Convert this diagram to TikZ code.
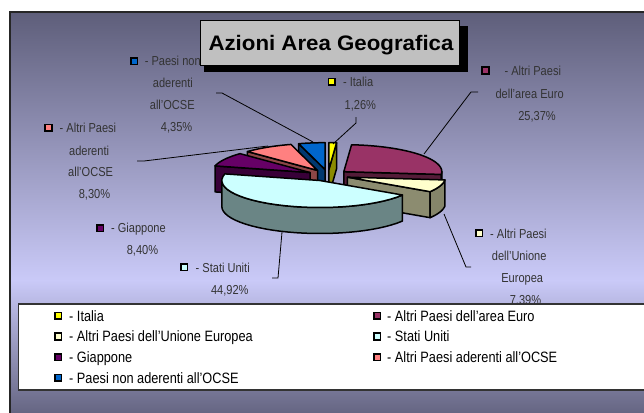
\documentclass[tikz,border=0pt]{standalone}
\usepackage{fontspec}
\newfontfamily\nf{Liberation Sans}[FakeStretch=0.85]
\newfontfamily\tf{Liberation Sans}[FakeStretch=1.06]
\definecolor{cIta}{HTML}{FFFF00}
\definecolor{cEur}{HTML}{993366}
\definecolor{cUE}{HTML}{FFFFCC}
\definecolor{cUS}{HTML}{CCFFFF}
\definecolor{cGia}{HTML}{660066}
\definecolor{cOC}{HTML}{FF8080}
\definecolor{cNon}{HTML}{0066CC}
\definecolor{bgdark}{HTML}{5E5E7A}
\definecolor{bglight}{HTML}{CACAF8}
\definecolor{bgbot}{HTML}{60607C}
\definecolor{titlegray}{HTML}{C0C0C0}
\def\RX{98}\def\RY{27}\def\DP{26}\def\CX{328}\def\CY{175.3}\def\EF{0.21}
\newcommand\setapex[2]{\pgfmathsetmacro\pmid{(#1+#2)/2}%
  \pgfmathsetmacro\ax{\CX+\EF*\RX*sin(\pmid)}%
  \pgfmathsetmacro\ay{\CY-\EF*\RY*cos(\pmid)}}
\newcommand\radface[2]{\filldraw[pieface, fill=#2!55!black] (\ax,\ay) -- ({\ax+\RX*sin(#1)},{\ay-\RY*cos(#1)}) -- ({\ax+\RX*sin(#1)},{\ay-\RY*cos(#1)+\DP}) -- (\ax,{\ay+\DP}) -- cycle;}
\newcommand\outface[3]{\filldraw[pieface, fill=#3!52!black] plot[domain=#1:#2, samples=30, variable=\t] ({\ax+\RX*sin(\t)},{\ay-\RY*cos(\t)}) -- plot[domain=#2:#1, samples=30, variable=\t] ({\ax+\RX*sin(\t)},{\ay-\RY*cos(\t)+\DP}) -- cycle;}
\newcommand\topface[3]{\filldraw[pieface, fill=#3] (\ax,\ay) -- plot[domain=#1:#2, samples=30, variable=\t] ({\ax+\RX*sin(\t)},{\ay-\RY*cos(\t)}) -- cycle;}
\begin{document}
\begin{tikzpicture}[x=1pt,y=-1pt,
  pieface/.style={draw=black, line width=1.5pt, line join=round},
  leader/.style={draw=black, line width=0.8pt},
  lab/.style={inner sep=0pt, text=black!80, font=\nf\fontsize{13}{13}\selectfont},
  leg/.style={inner sep=0pt, text=black, font=\nf\fontsize{15}{15}\selectfont},
  mk/.style={draw=black, line width=1.6pt, minimum size=6.6pt, inner sep=0pt}]
\useasboundingbox (0,0) rectangle (644,412);
\clip (0,0) rectangle (644,412);
\fill[white] (0,0) rectangle (644,412);
% frame background
\shade[top color=bgdark, bottom color=bglight] (10,12) rectangle (660,280.5);
\shade[top color=bglight, bottom color=bgbot] (10,280) rectangle (660,420);
\draw[black!85, line width=1.5pt] (10,420) -- (10,12) -- (660,12);
% pie slices, back to front
\setapex{0}{4.54}\radface{4.54}{cIta}\topface{0}{4.54}{cIta}
\setapex{344.3}{360}\radface{344.3}{cNon}\topface{344.3}{360}{cNon}
\setapex{314.4}{344.3}\radface{314.4}{cOC}\topface{314.4}{344.3}{cOC}
\setapex{4.54}{95.9}\radface{95.9}{cEur}\outface{90}{95.9}{cEur}\topface{4.54}{95.9}{cEur}
\setapex{284.2}{314.4}\radface{284.2}{cGia}\topface{284.2}{314.4}{cGia}
\setapex{95.9}{122.5}\radface{122.5}{cUE}\outface{95.9}{122.5}{cUE}\topface{95.9}{122.5}{cUE}
\setapex{122.5}{284.2}\outface{122.5}{270}{cUS}\topface{122.5}{284.2}{cUS}
% data labels
\node[mk, fill=cNon] (mA) at (134,61) {};
\node[lab, anchor=base west] (a1) at (144.6,65.6) {- Paesi non};
\node[lab, anchor=base] (a2) at (172.9,87.9) {aderenti};
\node[lab, anchor=base] (a3) at (172.3,109.9) {all’OCSE};
\node[lab, anchor=base] (a4) at (176.6,131.9) {4,35\%};
\node[mk, fill=cIta] (mB) at (331.8,81.7) {};
\node[lab, anchor=base west] (b1) at (342.9,86.3) {- Italia};
\node[lab, anchor=base] (b2) at (360.4,109.9) {1,26\%};
\node[mk, fill=cEur] (mC) at (485.4,70.5) {};
\node[lab, anchor=base west] (c1) at (504.3,75.2) {- Altri Paesi};
\node[lab, anchor=base] (c2) at (529.6,98.2) {dell’area Euro};
\node[lab, anchor=base] (c3) at (537,120.6) {25,37\%};
\node[mk, fill=cOC] (mD) at (48.5,127.7) {};
\node[lab, anchor=base west] (d1) at (59.5,132.5) {- Altri Paesi};
\node[lab, anchor=base] (d2) at (89.1,155.6) {aderenti};
\node[lab, anchor=base] (d3) at (90.6,176.9) {all’OCSE};
\node[lab, anchor=base] (d4) at (94.5,198.6) {8,30\%};
\node[mk, fill=cGia] (mE) at (100.2,228) {};
\node[lab, anchor=base west] (e1) at (110.9,232.6) {- Giappone};
\node[lab, anchor=base] (e2) at (142.5,254.6) {8,40\%};
\node[mk, fill=cUS] (mF) at (184,267.3) {};
\node[lab, anchor=base west] (f1) at (195.5,272) {- Stati Uniti};
\node[lab, anchor=base] (f2) at (229.8,294.6) {44,92\%};
\node[mk, fill=cUE] (mG) at (479.3,233.3) {};
\node[lab, anchor=base west] (g1) at (490,238) {- Altri Paesi};
\node[lab, anchor=base] (g2) at (519.2,260.6) {dell’Unione};
\node[lab, anchor=base] (g3) at (522.2,282.9) {Europea};
\node[lab, anchor=base] (g4) at (525.5,304.6) {7,39\%};
% leader lines
\coordinate (pA1) at (216,93); \coordinate (pA2) at (222,93); \coordinate (pA3) at (313,142);
\coordinate (pB1) at (356,117); \coordinate (pB2) at (356,123); \coordinate (pB3) at (333,144);
\coordinate (pC1) at (478,92); \coordinate (pC2) at (471,92); \coordinate (pC3) at (424,154);
\coordinate (pD1) at (137,161); \coordinate (pD2) at (144,161); \coordinate (pD3) at (268,146);
\coordinate (pF1) at (272,278); \coordinate (pF2) at (278,278); \coordinate (pF3) at (282,232);
\coordinate (pG1) at (471,267); \coordinate (pG2) at (466,267); \coordinate (pG3) at (444,214);
\draw[leader] (pA1) -- (pA2) -- (pA3);
\draw[leader] (pB1) -- (pB2) -- (pB3);
\draw[leader] (pC1) -- (pC2) -- (pC3);
\draw[leader] (pD1) -- (pD2) -- (pD3);
\draw[leader] (pF1) -- (pF2) -- (pF3);
\draw[leader] (pG1) -- (pG2) -- (pG3);
% title
\fill[black] (204,26) rectangle (468,72);
\filldraw[fill=titlegray, draw=black, line width=0.8pt] (200,20) rectangle (459,65.7);
\node[inner sep=0pt, anchor=base, font=\tf\bfseries\fontsize{21}{21}\selectfont] (title) at (331,50) {Azioni Area Geografica};
% legend
\filldraw[fill=white, draw=black!80, line width=1.2pt] (18.5,304) rectangle (660,390);
\node[mk, fill=cIta] (l1m) at (58,315.7) {};
\node[leg, anchor=base west] (l1) at (69,321.1) {- Italia};
\node[mk, fill=cEur] (l2m) at (377,315.7) {};
\node[leg, anchor=base west] (l2) at (387,321.1) {- Altri Paesi dell’area Euro};
\node[mk, fill=cUE] (l3m) at (58,336.4) {};
\node[leg, anchor=base west] (l3) at (69,341.8) {- Altri Paesi dell’Unione Europea};
\node[mk, fill=cUS] (l4m) at (377,336.4) {};
\node[leg, anchor=base west] (l4) at (387,341.8) {- Stati Uniti};
\node[mk, fill=cGia] (l5m) at (58,357.1) {};
\node[leg, anchor=base west] (l5) at (69,362.5) {- Giappone};
\node[mk, fill=cOC] (l6m) at (377,357.1) {};
\node[leg, anchor=base west] (l6) at (387,362.5) {- Altri Paesi aderenti all’OCSE};
\node[mk, fill=cNon] (l7m) at (58,377.8) {};
\node[leg, anchor=base west] (l7) at (69,383.2) {- Paesi non aderenti all’OCSE};
\end{tikzpicture}
\end{document}
